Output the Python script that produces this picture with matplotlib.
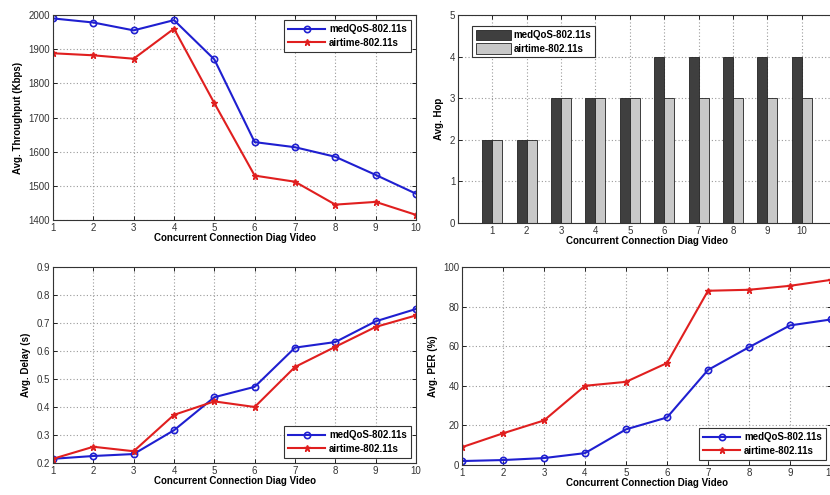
import numpy as np
import matplotlib
matplotlib.use("Agg")
import matplotlib.pyplot as plt

# data
conn = [1, 2, 3, 4, 5, 6, 7, 8, 9, 10]
labels = ["medQoS-802.11s", "airtime-802.11s"]

thr_med = [1990, 1978, 1955, 1985, 1870, 1628, 1613, 1585, 1532, 1477]
thr_air = [1888, 1882, 1872, 1960, 1742, 1530, 1512, 1445, 1453, 1415]

hop_med = [2, 2, 3, 3, 3, 4, 4, 4, 4, 4]
hop_air = [2, 2, 3, 3, 3, 3, 3, 3, 3, 3]

delay_med = [0.215, 0.225, 0.232, 0.317, 0.435, 0.472, 0.612, 0.632, 0.706, 0.750]
delay_air = [0.215, 0.258, 0.242, 0.372, 0.420, 0.400, 0.543, 0.615, 0.686, 0.727]

per_med = [2, 2.5, 3.5, 6, 18, 24, 48, 59.5, 70.5, 73.5]
per_air = [9, 16, 22.5, 40, 42, 51.5, 88, 88.5, 90.5, 93.5]

plt.rcParams['font.family'] = ['Liberation Sans', 'DejaVu Sans']
bold = dict(fontsize=7, fontweight='bold')

fig = plt.figure(figsize=(8.3, 4.95), dpi=100)
W, H = 830.0, 495.0


def box(x0, y0, x1, y1):
    # pixel box -> figure fraction
    return [x0 / W, 1 - y1 / H, (x1 - x0) / W, (y1 - y0) / H]


def style(ax):
    ax.grid(True, linestyle=(0, (1, 2)), color='#9a9a9a', linewidth=0.8)
    ax.tick_params(direction='in', top=True, right=True, labelsize=7,
                   labelcolor='#333333', length=3, width=0.6, pad=2)
    for s in ax.spines.values():
        s.set_linewidth(0.8)
        s.set_color('#333333')
    ax.set_xlabel("Concurrent Connection Diag Video", labelpad=0, **bold)


def lines(ax, med, air, loc):
    ax.plot(conn, med, color='#1f1fd0', marker='o', mfc='none', mec='#1f1fd0',
            ms=4.5, mew=1.2, lw=1.5, label=labels[0])
    ax.plot(conn, air, color='#e01f1f', marker='*', ms=5, lw=1.5, label=labels[1])
    lg = ax.legend(loc=loc, prop=dict(size=7, weight='bold'), handlelength=3.8,
                   fancybox=False, edgecolor='#333333', framealpha=1,
                   borderpad=0.45, labelspacing=0.35, handletextpad=0.4)
    lg.get_frame().set_linewidth(0.8)


# throughput
ax1 = fig.add_axes(box(53, 15, 416, 220))
lines(ax1, thr_med, thr_air, 'upper right')
ax1.set_xlim(1, 10)
ax1.set_ylim(1400, 2000)
ax1.set_xticks(conn)
ax1.set_ylabel("Avg. Throughput (Kbps)", **bold)
style(ax1)

# hop count
ax2 = fig.add_axes(box(458, 15, 836, 223))
x = np.array(conn)
wd = 0.29
ax2.bar(x - wd / 2, hop_med, wd, color='#3f3f3f', edgecolor='#222222', lw=0.6, label=labels[0])
ax2.bar(x + wd / 2, hop_air, wd, color='#c8c8c8', edgecolor='#222222', lw=0.6, label=labels[1])
ax2.set_xlim(0, 11)
ax2.set_ylim(0, 5)
ax2.set_xticks(conn)
ax2.set_ylabel("Avg. Hop", **bold)
style(ax2)
ax2.set_axisbelow(True)
lg = ax2.legend(loc='upper left', bbox_to_anchor=(0.025, 0.97),
                prop=dict(size=7, weight='bold'), handlelength=3.6,
                handleheight=1.3, fancybox=False, edgecolor='#333333', framealpha=1,
                borderpad=0.35, labelspacing=0.3, handletextpad=0.3)
lg.get_frame().set_linewidth(0.8)

# delay
ax3 = fig.add_axes(box(53, 267, 416, 463))
lines(ax3, delay_med, delay_air, 'lower right')
ax3.set_xlim(1, 10)
ax3.set_ylim(0.2, 0.9)
ax3.set_xticks(conn)
ax3.set_ylabel("Avg. Delay (s)", **bold)
style(ax3)

# packet error rate
ax4 = fig.add_axes(box(462, 267, 831, 465))
lines(ax4, per_med, per_air, 'lower right')
ax4.set_xlim(1, 10)
ax4.set_ylim(0, 100)
ax4.set_xticks(conn)
ax4.set_ylabel("Avg. PER (%)", **bold)
style(ax4)

fig.savefig("out.png", dpi=100)
